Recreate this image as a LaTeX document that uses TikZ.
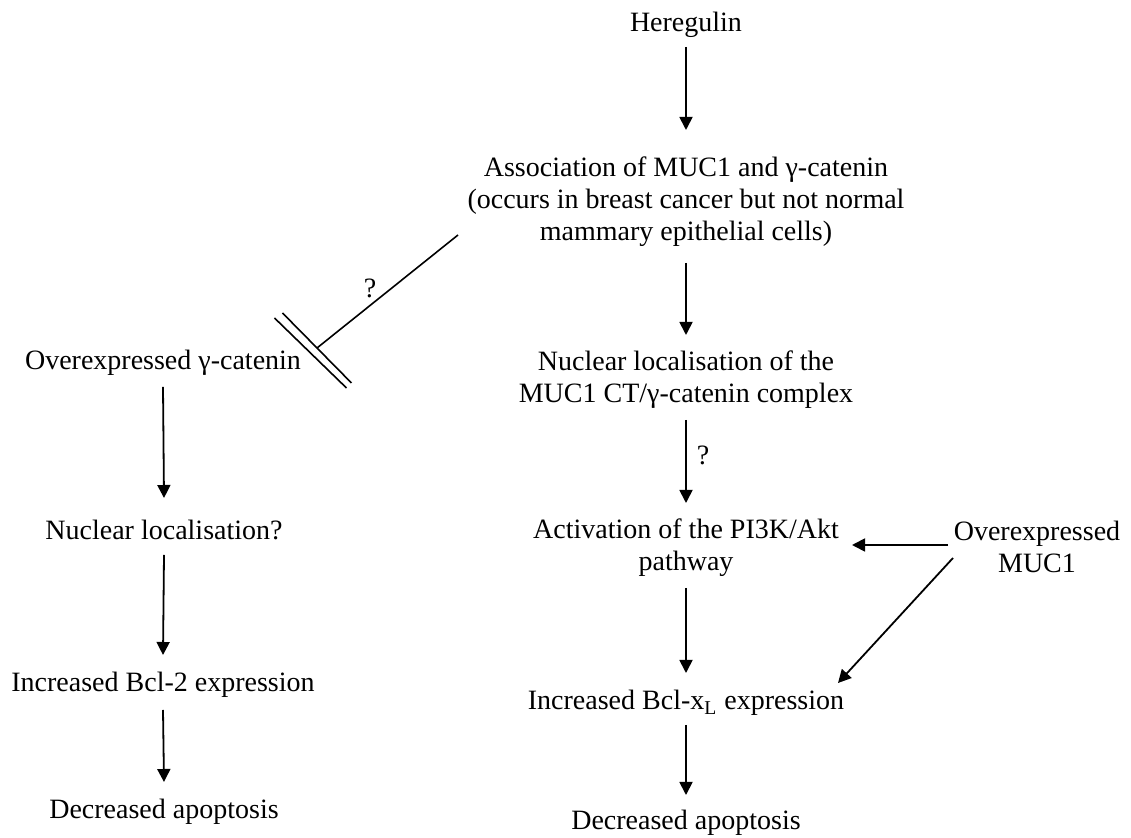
\documentclass[tikz,border=0pt]{standalone}
\usepackage{fontspec}
\setmainfont{Liberation Serif}
\usetikzlibrary{arrows.meta}
\begin{document}
\begin{tikzpicture}[x=0.5pt,y=-0.5pt,
  lbl/.style={font=\fontsize{14}{16}\selectfont, align=center, inner sep=0pt},
  qlbl/.style={font=\fontsize{14}{16}\selectfont, inner sep=0pt},
  arr/.style={-{Triangle[length=6.5pt,width=6.5pt]}, line width=0.9pt},
  inhline/.style={line width=0.8pt}]
\useasboundingbox (0,0) rectangle (1131,838);

% right column
\node[lbl] (her) at (686,25) {Heregulin};
\node[lbl] (assoc) at (686,202) {Association of MUC1 and γ-catenin\\(occurs in breast cancer but not normal\\mammary epithelial cells)};
\node[lbl] (nuc) at (686,380) {Nuclear localisation of the\\MUC1 CT/γ-catenin complex};
\node[lbl] (act) at (686,548) {Activation of the PI3K/Akt\\pathway};
\node[lbl] (muc) at (1037,547) {Overexpressed\\MUC1};
\node[lbl] (bclx) at (686,703) {Increased Bcl-x\textsubscript{L} expression};
\node[lbl] (decR) at (686,823) {Decreased apoptosis};

% left column
\node[lbl] (ovg) at (163,363) {Overexpressed γ-catenin};
\node[lbl] (nucq) at (164,530) {Nuclear localisation?};
\node[lbl] (bcl2) at (163,685) {Increased Bcl-2 expression};
\node[lbl] (decL) at (164,812) {Decreased apoptosis};

% question marks
\node[qlbl] (q1) at (370,288) {?};
\node[qlbl] (q2) at (703,455) {?};

% right arrows
\draw[arr] ([yshift=-11pt]her.center) -- ([yshift=36pt]assoc.center);
\draw[arr] ([yshift=-30.5pt]assoc.center) -- ([yshift=22.5pt]nuc.center);
\draw[arr] ([yshift=-20pt]nuc.center) -- ([yshift=22.5pt]act.center);
\draw[arr] ([yshift=-20pt]act.center) -- ([yshift=15pt]bclx.center);
\draw[arr] ([yshift=-11pt]bclx.center) -- ([yshift=14pt]decR.center);
\draw[arr] ([xshift=-44.5pt,yshift=1pt]muc.center) -- ([xshift=83pt,yshift=1.5pt]act.center);
\draw[arr] ([xshift=-42pt,yshift=-5.5pt]muc.center) -- ([xshift=76pt,yshift=10pt]bclx.center);

% left arrows
\draw[arr] ([yshift=-12pt]ovg.center) -- ([yshift=16pt]nucq.center);
\draw[arr] ([yshift=-12.5pt]nucq.center) -- ([yshift=15pt]bcl2.center);
\draw[arr] ([yshift=-12.5pt]bcl2.center) -- ([yshift=15pt]decL.center);

% inhibition
\coordinate (inh) at (317,348);
\draw[inhline] ([xshift=-114pt,yshift=-16.5pt]assoc.center) -- (inh);
\draw[inhline] (inh) +(-34.5,-35) -- +(34.5,35);
\draw[inhline] (inh) ++(-6.5,5) +(-36,-35) -- +(36,35);
\end{tikzpicture}
\end{document}
